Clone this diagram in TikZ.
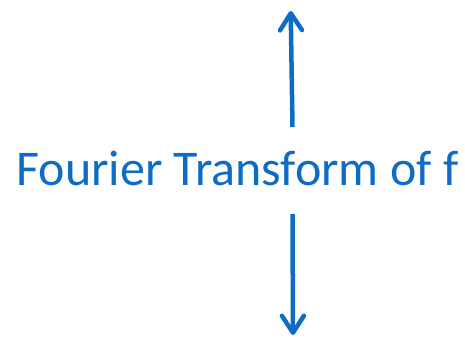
\documentclass[tikz,border=0pt]{standalone}
\usepackage{fontspec}
\setmainfont{Carlito}
\usetikzlibrary{arrows.meta}

\begin{document}
\begin{tikzpicture}[
  x=1pt, y=-1pt,
  ftarrow/.style={line width=4.5pt, draw=ftblue,
    -{Straight Barb[round, length=17pt, width=22pt]}},
  ftlabel/.style={text=ftblue, font=\fontsize{50}{60}\selectfont, inner sep=0pt},
]
\definecolor{ftblue}{RGB}{14,108,196}

\useasboundingbox (0,0) rectangle (465,339);

\node [ftlabel, anchor=base] (ft) at (237.5,185) {Fourier Transform of f};

\coordinate (upfrom) at (292.5,127);
\coordinate (upto) at (290.7,11);
\coordinate (downfrom) at (292.5,214);
\coordinate (downto) at (293,335);

\draw [ftarrow] (upfrom) -- (upto);
\draw [ftarrow] (downfrom) -- (downto);

\end{tikzpicture}
\end{document}
